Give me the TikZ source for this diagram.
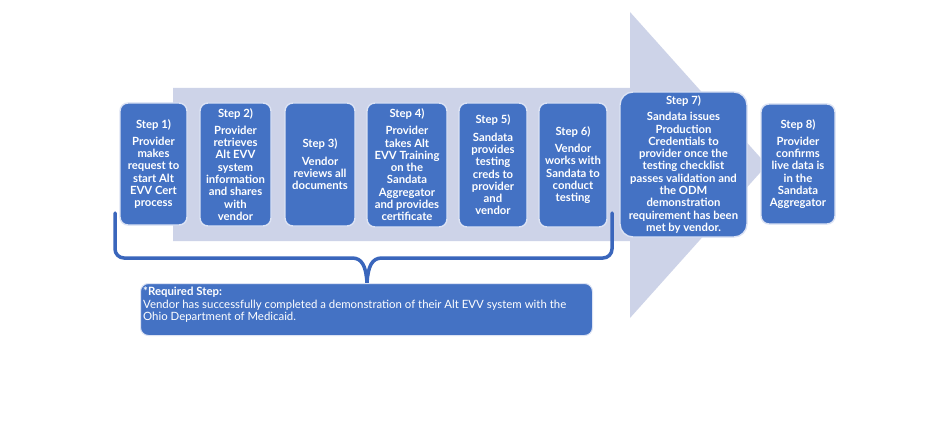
\documentclass[tikz,border=0pt]{standalone}
\usepackage{fontspec}
\setmainfont{Lato}
\definecolor{boxblue}{HTML}{4472C4}
\definecolor{arrowgray}{HTML}{CDD3E8}
\definecolor{bracketblue}{HTML}{3A66BC}
\definecolor{boxedge}{HTML}{DCE3F4}
\begin{document}
\begin{tikzpicture}[x=1pt,y=-1pt,
  stepbox/.style={draw=boxedge, line width=1.4pt, fill=boxblue, rounded corners=8pt,
    text=white, font=\bfseries\fontsize{11.3}{12.3}\selectfont, align=center,
    inner sep=0pt, anchor=center},
  calloutbox/.style={fill=boxblue, rounded corners=8pt, draw=boxedge, line width=1pt},
  bracketline/.style={draw=bracketblue, line width=3.5pt, line cap=round, line join=round}]
\useasboundingbox[fill=white] (0,0) rectangle (927,436);
% big arrow
\fill[arrowgray] (173,88) -- (630,88) -- (630,12) -- (767,165) -- (630,318) -- (630,241) -- (173,241) -- cycle;
% bracket
\coordinate (bl) at (115,213);
\coordinate (br) at (612,213);
\coordinate (bt) at (367,283);
\draw[bracketline] (bl) -- (115,249) arc[start angle=180, end angle=90, radius=9] -- (352,258)
  .. controls (362,258) and (366,266) .. (bt)
  .. controls (368,266) and (372,258) .. (382,258) -- (603,258)
  arc[start angle=90, end angle=0, radius=9] -- (br);
% steps
\node[stepbox, minimum width=67pt, minimum height=122pt] (s1) at (153.5,164)
  {Step 1)\\[5pt] Provider\\ makes\\ request to\\ start Alt\\ EVV Cert\\ process};
\node[stepbox, minimum width=71pt, minimum height=123pt] (s2) at (235.5,164.5)
  {Step 2)\\[4.5pt] Provider\\ retrieves\\ Alt EVV\\ system\\ information\\ and shares\\ with\\ vendor};
\node[stepbox, minimum width=70pt, minimum height=123pt] (s3) at (320,164.5)
  {Step 3)\\[5pt] Vendor\\ reviews all\\ documents};
\node[stepbox, minimum width=80pt, minimum height=124pt] (s4) at (407,165)
  {Step 4)\\[4.5pt] Provider\\ takes Alt\\ EVV Training\\ on the\\ Sandata\\ Aggregator\\ and provides\\ certificate};
\node[stepbox, minimum width=68pt, minimum height=124pt] (s5) at (493,165)
  {Step 5)\\[5pt] Sandata\\ provides\\ testing\\ creds to\\ provider\\ and\\ vendor};
\node[stepbox, minimum width=68pt, minimum height=124pt] (s6) at (573,165)
  {Step 6)\\[5pt] Vendor\\ works with\\ Sandata to\\ conduct\\ testing};
\node[stepbox, rounded corners=13pt, minimum width=127pt, minimum height=145pt] (s7) at (683.5,164.5)
  {Step 7)\\[4pt] Sandata issues\\ Production\\ Credentials to\\ provider once the\\ testing checklist\\ passes validation and\\ the ODM\\ demonstration\\ requirement has been\\ met by vendor.};
\node[stepbox, minimum width=74pt, minimum height=120pt] (s8) at (798,164)
  {Step 8)\\[5pt] Provider\\ confirms\\ live data is\\ in the\\ Sandata\\ Aggregator};
% callout
\node[calloutbox, minimum width=452pt, minimum height=52pt, anchor=north west, inner sep=0pt] (call) at (140,283) {};
\node[anchor=north west, text=white, align=left, inner sep=0pt,
  font=\fontsize{11.4}{12.5}\selectfont] (calltext) at (143,287)
  {\textbf{*Required Step:}\\ Vendor has successfully completed a demonstration of their Alt EVV system with the\\ Ohio Department of Medicaid.};
\end{tikzpicture}
\end{document}
